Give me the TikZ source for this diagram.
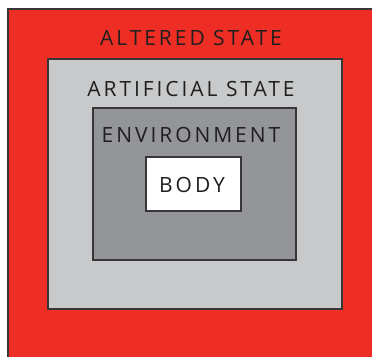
\documentclass[tikz,border=0pt]{standalone}
\usepackage{fontspec}
\setmainfont{Open Sans}
\definecolor{alteredred}{HTML}{EE2E24}
\definecolor{artgray}{HTML}{C8C9CB}
\definecolor{envgray}{HTML}{939598}
\definecolor{edge}{HTML}{3A3536}
\begin{document}
\begin{tikzpicture}[x=1pt,y=-1pt,
  layer/.style={draw=edge,line width=1.4pt,anchor=north west,inner sep=0pt,outer sep=0pt},
  caption/.style={text=black!88,font=\fontsize{21}{26}\selectfont\addfontfeatures{LetterSpace=14},inner sep=0pt,anchor=center}]
  \useasboundingbox (0,0) rectangle (372,356);
  % nested layers, outermost first
  \node[layer,fill=alteredred,minimum width=370pt,minimum height=352pt] (altered) at (8,9) {};
  \node[layer,fill=artgray,minimum width=294pt,minimum height=250pt] (artificial) at (48,59) {};
  \node[layer,fill=envgray,minimum width=203pt,minimum height=152pt] (environment) at (93,108) {};
  \node[layer,fill=white,minimum width=95pt,minimum height=54pt] (body) at (146,157) {};
  % layer captions
  \node[caption] (alteredlbl) at (191,37.5) {ALTERED STATE};
  \node[caption] (artificiallbl) at (191,88.5) {ARTIFICIAL STATE};
  \node[caption] (environmentlbl) at (191,135) {ENVIRONMENT};
  \node[caption] (bodylbl) at (192,184.5) {BODY};
\end{tikzpicture}
\end{document}
